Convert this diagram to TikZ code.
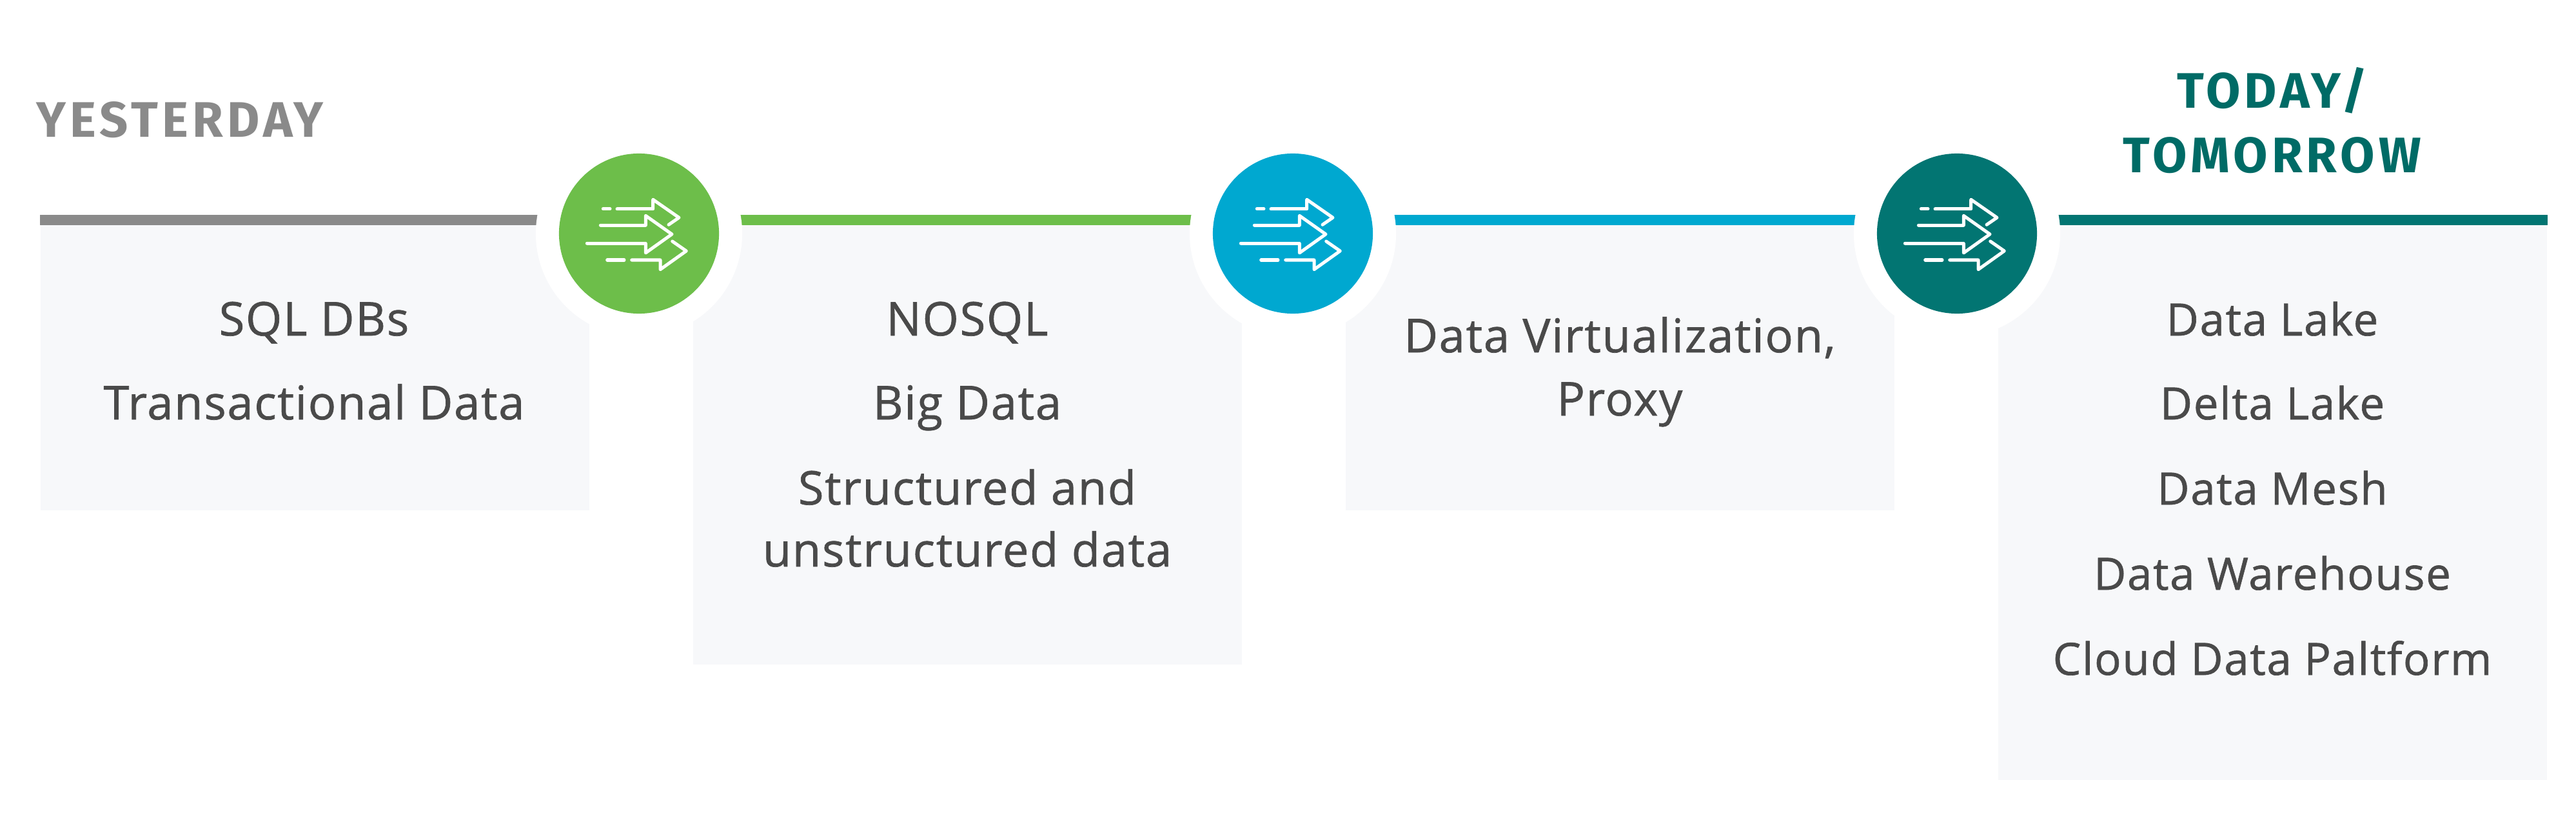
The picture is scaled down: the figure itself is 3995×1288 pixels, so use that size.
\documentclass[tikz,border=0pt]{standalone}
\usepackage{fontspec}
\setmainfont[LetterSpace=2.5,FakeBold=1]{Open Sans}
\newfontfamily\headfont[LetterSpace=8]{Fira Sans}
\usetikzlibrary{positioning}
\definecolor{boxgray}{HTML}{F7F8FA}
\definecolor{textgray}{HTML}{4A4A4A}
\definecolor{bargray}{HTML}{8A8A8A}
\definecolor{bargreen}{HTML}{6DBE4A}
\definecolor{barblue}{HTML}{00A8D0}
\definecolor{barteal}{HTML}{027572}
\definecolor{headteal}{HTML}{006B66}
\tikzset{
  panel/.style={draw=none,fill=boxgray,minimum width=8.51cm,inner sep=0pt,anchor=north west},
  bar/.style={line width=.16cm},
  ring/.style={circle,fill=white,minimum size=3.2cm,inner sep=0pt},
  disc/.style={circle,minimum size=2.48cm,inner sep=0pt},
  item/.style={anchor=base,text=textgray,inner sep=0pt,font=\fontsize{20.5}{25}\selectfont},
  itemsmall/.style={item,font=\fontsize{19.6}{25}\selectfont},
  head/.style={anchor=base,inner sep=0pt,font=\headfont\bfseries\fontsize{22}{26}\selectfont},
  flowline/.style={draw=white,line width=.05cm,line cap=round,line join=round}
}
\begin{document}
\begin{tikzpicture}[x=.01cm,y=-.01cm]
\useasboundingbox (0,0) rectangle (3995,1288);
% panels
\node[panel,minimum height=4.49cm] (p1) at (62,341) {};
\node[panel,minimum height=6.88cm] (p2) at (1074,341) {};
\node[panel,minimum height=4.49cm] (p3) at (2086,341) {};
\node[panel,minimum height=8.67cm] (p4) at (3098,341) {};
% top bars
\foreach \p/\c in {p1/bargray,p2/bargreen,p3/barblue,p4/barteal}
  \draw[bar,\c] (\p.north west) -- (\p.north east);
% circles
\foreach \n/\x/\c in {a/991/bargreen,b/2005/barblue,c/3035/barteal}{
  \node[ring] (ring\n) at (\x,362) {};
  \node[disc,fill=\c] (disc\n) at (\x,362) {};
  \begin{scope}[shift={(disc\n.center)}]
    \draw[flowline] (-55.7,-38.3) -- (-45,-38.3);
    \draw[flowline] (-34,-38.3) -- (21.7,-38.3) -- (21.7,-52.7) -- (62,-24.7) -- (46,-13.7);
    \draw[flowline] (-59.7,-12.7) -- (10.3,-12.7) -- (10.3,-27.7) -- (51,1) -- (10.3,30) -- (10.3,15.3) -- (-80.7,15.3);
    \draw[flowline] (-49.3,41) -- (-23,41);
    \draw[flowline] (-11.3,41) -- (33,41) -- (33,55.7) -- (73.3,27) -- (51.7,12);
  \end{scope}
}
% headings
\node[head,text=bargray,anchor=base west] (yesterday) at (56,213) {YESTERDAY};
\node[head,text=headteal] (today) at (3524,168) {TODAY/};
\node[head,text=headteal] (tomorrow) at (3524,268) {TOMORROW};
% texts
\node[item] (sql) at (487,520) {SQL DBs};
\node[item] (trans) at (487,650) {Transactional Data};
\node[item] (nosql) at (1500,520) {NOSQL};
\node[item] (big) at (1500,650) {Big Data};
\node[item] (struct) at (1500,782) {Structured and};
\node[item] (unstruct) at (1500,878) {unstructured data};
\node[item] (virt) at (2512,546) {Data Virtualization,};
\node[item] (proxy) at (2512,644) {Proxy};
\node[itemsmall] (lake) at (3524,520) {Data Lake};
\node[itemsmall] (delta) at (3524,650) {Delta Lake};
\node[itemsmall] (mesh) at (3524,782) {Data Mesh};
\node[itemsmall] (ware) at (3524,914) {Data Warehouse};
\node[itemsmall] (cloud) at (3524,1046) {Cloud Data Paltform};
\end{tikzpicture}
\end{document}
